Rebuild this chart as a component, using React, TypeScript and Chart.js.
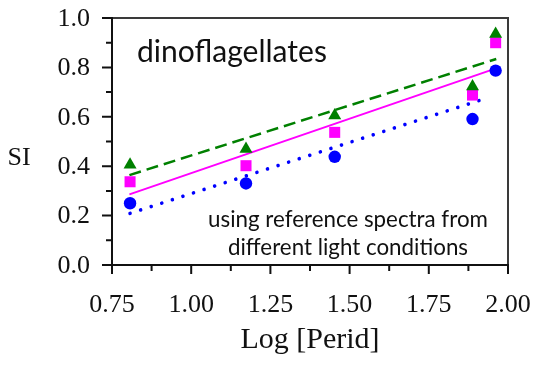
import React, { useEffect, useRef } from "react";
import { Chart, registerables } from "chart.js";

Chart.register(...registerables);

// ---- data ----
const logPerid = [0.807, 1.173, 1.453, 1.888, 1.961];
const siTriangle = [0.406, 0.470, 0.605, 0.723, 0.935];
const siSquare = [0.337, 0.402, 0.537, 0.688, 0.900];
const siCircle = [0.250, 0.330, 0.438, 0.591, 0.787];

const fitTriangleX = [0.805, 1.963];
const fitTriangleY = [0.364, 0.834];
const fitSquareX = [0.805, 1.96];
const fitSquareY = [0.286, 0.795];
const fitCircleX = [0.807, 1.936];
const fitCircleY = [0.209, 0.677];

const xTicks = [0.75, 1.0, 1.25, 1.5, 1.75, 2.0];
const xTickLabels = ["0.75", "1.00", "1.25", "1.50", "1.75", "2.00"];
const xMinorTicks = [0.875, 1.125, 1.375, 1.625, 1.875];
const yTicks = [0.0, 0.2, 0.4, 0.6, 0.8, 1.0];
const yTickLabels = ["0.0", "0.2", "0.4", "0.6", "0.8", "1.0"];
const yMinorTicks = [0.1, 0.3, 0.5, 0.7, 0.9];

const xTitle = "Log [Perid]";
const yTitle = "SI";
const panelLabel = "dinoflagellates";
const noteLines = ["using reference spectra from", "different light conditions"];

const GREEN = "rgb(0,128,0)";
const MAGENTA = "#ff00ff";
const BLUE = "#0000ff";
const SERIF = "'Liberation Serif', 'Times New Roman', serif";
const SANS = "Lato, 'Open Sans', sans-serif";

const pts = (xs: number[], ys: number[]) => xs.map((x, i) => ({ x, y: ys[i] }));

function fitText(ctx: CanvasRenderingContext2D, text: string, family: string, width: number) {
  ctx.font = `20px ${family}`;
  const w = ctx.measureText(text).width;
  const size = (20 * width) / w;
  ctx.font = `${size}px ${family}`;
}

const zeroPad = (s: any) => {
  s.paddingTop = 0;
  s.paddingBottom = 0;
  s.paddingLeft = 0;
  s.paddingRight = 0;
};

const decor = {
  id: "decor",
  afterDraw(chart: any) {
    const { ctx, chartArea: a, scales } = chart;
    const xs = scales.x;
    const ys = scales.y;
    ctx.save();
    // frame
    ctx.strokeStyle = "#3a3a3a";
    ctx.lineWidth = 2;
    ctx.beginPath();
    ctx.moveTo(a.left, a.top);
    ctx.lineTo(a.right, a.top);
    ctx.lineTo(a.right, a.bottom);
    ctx.stroke();
    ctx.strokeStyle = "#111";
    ctx.beginPath();
    ctx.moveTo(a.left, a.top - 1);
    ctx.lineTo(a.left, a.bottom);
    ctx.lineTo(a.right + 1, a.bottom);
    ctx.stroke();
    // ticks
    ctx.beginPath();
    yTicks.forEach((v) => {
      const p = ys.getPixelForValue(v);
      ctx.moveTo(a.left - 10, p);
      ctx.lineTo(a.left, p);
    });
    yMinorTicks.forEach((v) => {
      const p = ys.getPixelForValue(v);
      ctx.moveTo(a.left - 6, p);
      ctx.lineTo(a.left, p);
    });
    xTicks.forEach((v) => {
      const p = xs.getPixelForValue(v);
      ctx.moveTo(p, a.bottom);
      ctx.lineTo(p, a.bottom + 9);
    });
    xMinorTicks.forEach((v) => {
      const p = xs.getPixelForValue(v);
      ctx.moveTo(p, a.bottom);
      ctx.lineTo(p, a.bottom + 6);
    });
    ctx.stroke();

    // tick labels
    ctx.fillStyle = "#111";
    ctx.font = `26px ${SERIF}`;
    ctx.textAlign = "right";
    ctx.textBaseline = "middle";
    yTicks.forEach((v, i) => {
      ctx.fillText(yTickLabels[i], a.left - 22, ys.getPixelForValue(v) + 1);
    });
    ctx.textAlign = "center";
    ctx.textBaseline = "alphabetic";
    xTicks.forEach((v, i) => {
      ctx.fillText(xTickLabels[i], xs.getPixelForValue(v), a.bottom + 47);
    });

    // texts
    ctx.font = `26px ${SERIF}`;
    ctx.textAlign = "center";
    ctx.fillText(yTitle, 19, 165);

    ctx.textAlign = "left";
    fitText(ctx, panelLabel, SANS, 190);
    ctx.fillText(panelLabel, 137, 62);

    ctx.textAlign = "center";
    fitText(ctx, noteLines[0], SANS, 280);
    ctx.fillText(noteLines[0], 348, 227);
    ctx.fillText(noteLines[1], 348, 255);
    ctx.restore();
  },
};

export default function App() {
  const ref = useRef<HTMLCanvasElement>(null);
  useEffect(() => {
    if (!ref.current) return;
    const chart = new Chart(ref.current, {
      type: "scatter",
      data: {
        datasets: [
          {
            data: pts(logPerid, siTriangle),
            pointStyle: "triangle",
            pointRadius: 7.5,
            backgroundColor: GREEN,
            borderColor: GREEN,
            borderWidth: 0,
            order: 0,
          },
          {
            data: pts(logPerid, siSquare),
            pointStyle: "rect",
            pointRadius: 7.8,
            backgroundColor: MAGENTA,
            borderColor: MAGENTA,
            borderWidth: 0,
            order: 0,
          },
          {
            data: pts(logPerid, siCircle),
            pointStyle: "circle",
            pointRadius: 6.2,
            backgroundColor: BLUE,
            borderColor: BLUE,
            borderWidth: 0,
            order: 0,
          },
          {
            type: "line",
            data: pts(fitTriangleX, fitTriangleY),
            showLine: true,
            pointRadius: 0,
            borderColor: GREEN,
            borderWidth: 2.5,
            borderDash: [12, 6],
            fill: false,
            order: 1,
          },
          {
            type: "line",
            data: pts(fitSquareX, fitSquareY),
            showLine: true,
            pointRadius: 0,
            borderColor: MAGENTA,
            borderWidth: 2,
            fill: false,
            order: 1,
          },
          {
            type: "line",
            data: pts(fitCircleX, fitCircleY),
            showLine: true,
            pointRadius: 0,
            borderColor: BLUE,
            borderWidth: 3.6,
            borderDash: [0.01, 11.1],
            borderCapStyle: "round",
            fill: false,
            order: 1,
          },
        ] as any,
      },
      options: {
        animation: false,
        responsive: false,
        events: [],
        layout: { padding: { left: 0, top: 18, right: 31, bottom: 0 } },
        plugins: { legend: { display: false }, tooltip: { enabled: false } },
        scales: {
          x: {
            type: "linear",
            min: 0.75,
            max: 2.0,
            afterBuildTicks: (s: any) => {
              s.ticks = xTicks.map((v) => ({ value: v }));
            },
            afterFit: (s: any) => {
              s.height = 103;
              zeroPad(s);
            },
            grid: { display: false, drawTicks: false },
            border: { display: false },
            ticks: { display: false },
            title: {
              display: true,
              text: xTitle,
              color: "#111",
              font: { family: SERIF, size: 30 },
              padding: { top: 0, bottom: 10 },
            },
          },
          y: {
            type: "linear",
            min: 0,
            max: 1,
            afterBuildTicks: (s: any) => {
              s.ticks = yTicks.map((v) => ({ value: v }));
            },
            afterFit: (s: any) => {
              s.width = 112;
              zeroPad(s);
            },
            grid: { display: false, drawTicks: false },
            border: { display: false },
            ticks: { display: false },
          },
        },
      },
      plugins: [decor],
    } as any);
    return () => chart.destroy();
  }, []);
  return (
    <div style={{ position: "absolute", left: 0, top: 0, width: 539, height: 368, background: "#fff" }}>
      <canvas ref={ref} width={539} height={368} style={{ display: "block" }} />
    </div>
  );
}
